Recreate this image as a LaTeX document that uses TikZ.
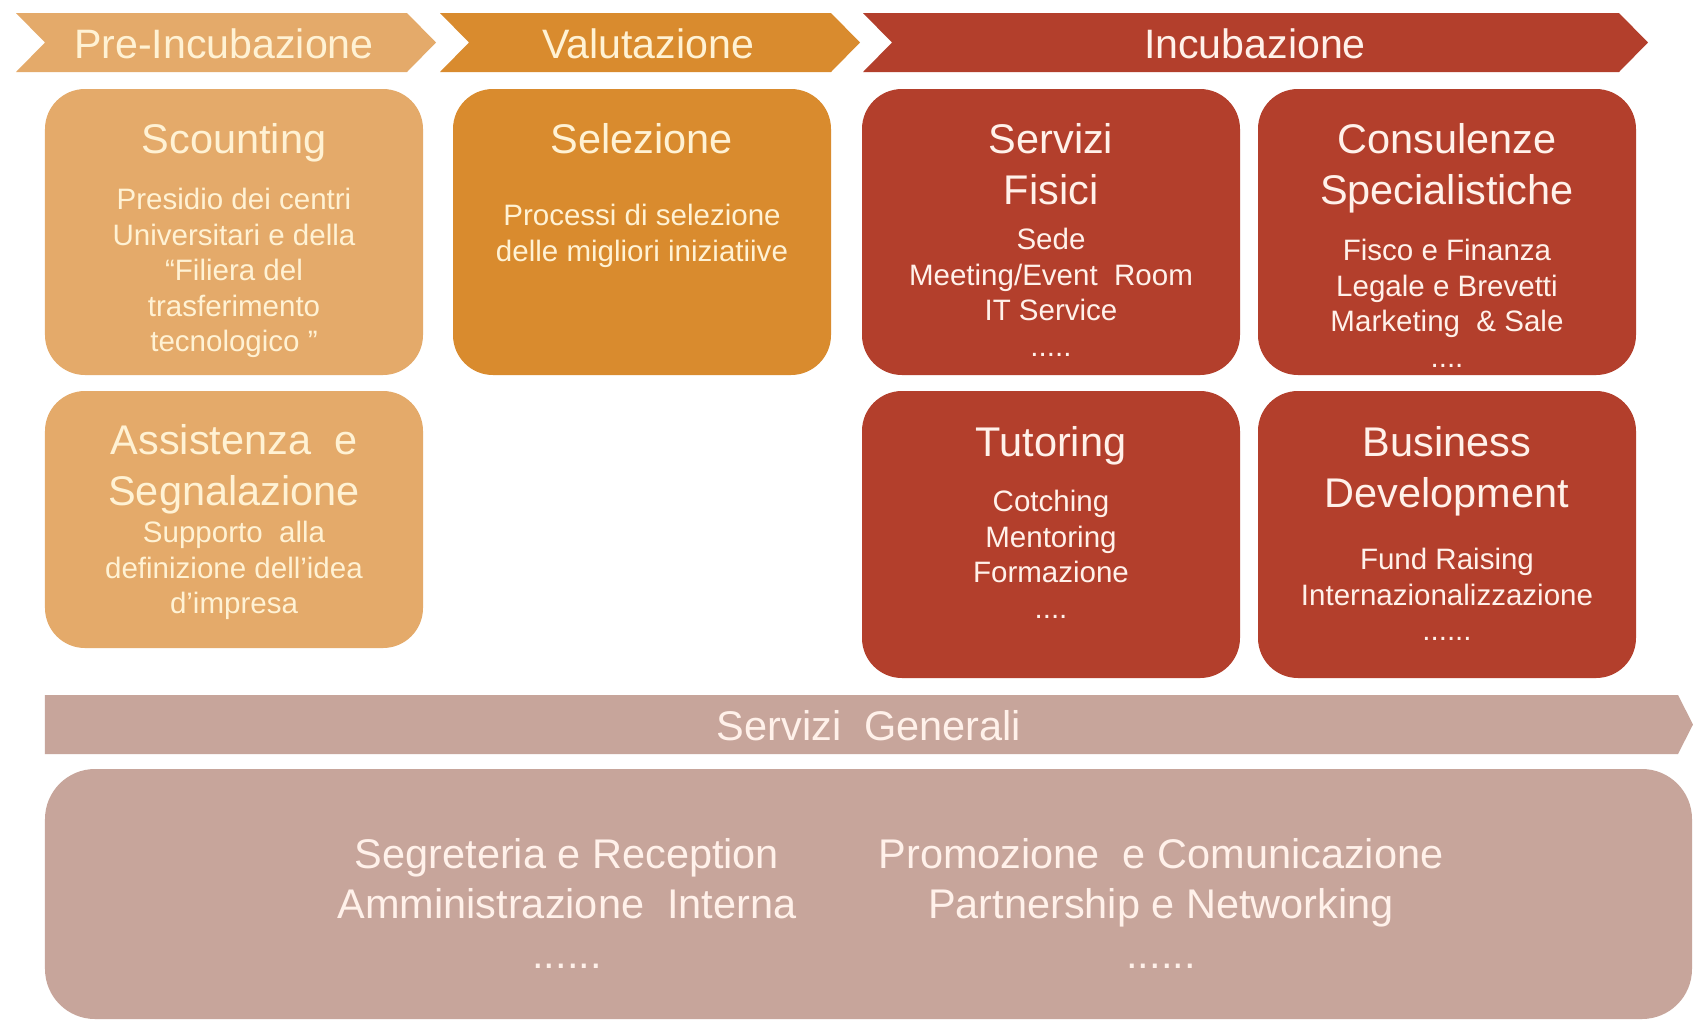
\documentclass[tikz,border=0pt]{standalone}
\usepackage{fontspec}
\setmainfont{Liberation Sans}
\usepackage{xcolor}
\usetikzlibrary{positioning}
\definecolor{preinc}{HTML}{E4AA6A}
\definecolor{valut}{HTML}{D98B2E}
\definecolor{incub}{HTML}{B33F2C}
\definecolor{genserv}{HTML}{C7A59B}
\definecolor{creamtxt}{HTML}{FFF2D4}
\definecolor{paletxt}{HTML}{FFF1EA}

\begin{document}
\begin{tikzpicture}[
  phase/.style={font=\fontsize{11.7}{14}\selectfont, text=creamtxt, inner sep=0pt},
  card/.style={rounded corners=0.4cm, minimum width=3.78cm, minimum height=2.86cm,
               inner sep=0pt},
  cardtitle/.style={font=\fontsize{11.8}{14.5}\selectfont, align=center,
                    anchor=north, inner sep=0pt},
  cardbody/.style={font=\fontsize{8.4}{10.1}\selectfont, align=center,
                   anchor=north, inner sep=0pt},
  genlist/.style={font=\fontsize{11.8}{14.2}\selectfont, text=paletxt,
                  align=center, anchor=north, inner sep=0pt},
]
\fill[white] (0,0) rectangle (16.93,-10.21);
\useasboundingbox (0,0) rectangle (16.93,-10.21);

% ── phase chevrons ──────────────────────────────────────────────────────────
\fill[preinc] (0.16,-0.13) -- (4.07,-0.13) -- (4.36,-0.425) -- (4.07,-0.72)
  -- (0.16,-0.72) -- (0.45,-0.425) -- cycle;
\fill[valut] (4.40,-0.13) -- (8.31,-0.13) -- (8.60,-0.425) -- (8.31,-0.72)
  -- (4.40,-0.72) -- (4.69,-0.425) -- cycle;
\fill[incub] (8.63,-0.13) -- (16.19,-0.13) -- (16.48,-0.425) -- (16.19,-0.72)
  -- (8.63,-0.72) -- (8.92,-0.425) -- cycle;
\node[phase] (ph-pre) at (2.24,-0.44) {Pre-Incubazione};
\node[phase] (ph-val) at (6.48,-0.44) {Valutazione};
\node[phase, text=paletxt] (ph-inc) at (12.55,-0.44) {Incubazione};

% ── pre-incubazione ─────────────────────────────────────────────────────────
\node[card, fill=preinc] (scout) at (2.34,-2.32) {};
\node[cardtitle, text=creamtxt, below=0.34cm of scout.north] (scout-t) {Scounting};
\node[cardbody, text=creamtxt, below=0.995cm of scout.north] (scout-b)
  {Presidio dei centri\\Universitari e della\\“Filiera del\\trasferimento\\tecnologico ”};

\node[card, fill=preinc, minimum height=2.57cm] (assist) at (2.34,-5.195) {};
\node[cardtitle, text=creamtxt, below=0.33cm of assist.north] (assist-t)
  {Assistenza\ \ e\\Segnalazione};
\node[cardbody, text=creamtxt, below=1.305cm of assist.north] (assist-b)
  {Supporto\ \ alla\\definizione dell'idea\\d'impresa};

% ── valutazione ─────────────────────────────────────────────────────────────
\node[card, fill=valut] (selez) at (6.42,-2.32) {};
\node[cardtitle, text=creamtxt, below=0.34cm of selez.north] (selez-t) {Selezione};
\node[cardbody, text=creamtxt, below=1.155cm of selez.north] (selez-b)
  {Processi di selezione\\delle migliori iniziatiive};

% ── incubazione ─────────────────────────────────────────────────────────────
\node[card, fill=incub] (fisici) at (10.51,-2.32) {};
\node[cardtitle, text=paletxt, below=0.34cm of fisici.north] (fisici-t)
  {Servizi\\Fisici};
\node[cardbody, text=paletxt, below=1.395cm of fisici.north] (fisici-b)
  {Sede\\Meeting/Event\ \ Room\\IT Service\\.....};

\node[card, fill=incub] (consul) at (14.47,-2.32) {};
\node[cardtitle, text=paletxt, below=0.34cm of consul.north] (consul-t)
  {Consulenze\\Specialistiche};
\node[cardbody, text=paletxt, below=1.505cm of consul.north] (consul-b)
  {Fisco e Finanza\\Legale e Brevetti\\Marketing\ \ \& Sale\\....};

\node[card, fill=incub, minimum height=2.87cm] (tutor) at (10.51,-5.345) {};
\node[cardtitle, text=paletxt, below=0.35cm of tutor.north] (tutor-t) {Tutoring};
\node[cardbody, text=paletxt, below=0.995cm of tutor.north] (tutor-b)
  {Cotching\\Mentoring\\Formazione\\....};

\node[card, fill=incub, minimum height=2.87cm] (busdev) at (14.47,-5.345) {};
\node[cardtitle, text=paletxt, below=0.35cm of busdev.north] (busdev-t)
  {Business\\Development};
\node[cardbody, text=paletxt, below=1.575cm of busdev.north] (busdev-b)
  {Fund Raising\\Internazionalizzazione\\......};

% ── servizi generali ────────────────────────────────────────────────────────
\fill[genserv] (0.45,-6.95) -- (16.78,-6.95) -- (16.93,-7.245) -- (16.78,-7.54)
  -- (0.45,-7.54) -- cycle;
\node[genlist, anchor=center] (gen-t) at (8.69,-7.26) {Servizi\ \ Generali};

\node[fill=genserv, rounded corners=0.5cm, minimum width=16.47cm,
      minimum height=2.50cm, inner sep=0pt] (genbox) at (8.685,-8.94) {};
\node[genlist] (segr) at (5.67,-8.38)
  {Segreteria e Reception\\Amministrazione\ \ Interna\\......};
\node[genlist] (promo) at (11.61,-8.38)
  {Promozione\ \ e Comunicazione\\Partnership e Networking\\......};
\end{tikzpicture}
\end{document}
